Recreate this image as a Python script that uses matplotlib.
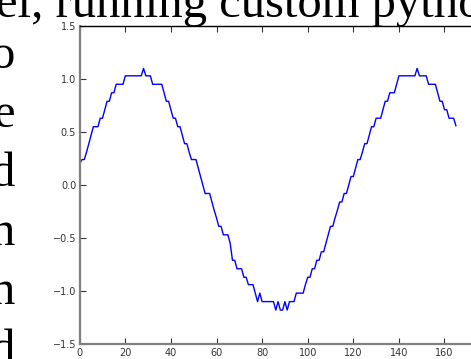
import matplotlib
matplotlib.use("Agg")
import matplotlib.pyplot as plt

# values, one per x step (x = 0..165)
y_vals = [
    0.20, 0.24, 0.24, 0.31, 0.39, 0.47, 0.55, 0.55, 0.55, 0.63,
    0.63, 0.71, 0.79, 0.79, 0.87, 0.87, 0.95, 0.95, 0.95, 0.95,
    1.03, 1.03, 1.03, 1.03, 1.03, 1.03, 1.03, 1.03, 1.10, 1.03,
    1.03, 1.03, 0.95, 0.95, 0.95, 0.95, 0.95, 0.87, 0.79, 0.79,
    0.71, 0.63, 0.63, 0.55, 0.55, 0.47, 0.39, 0.39, 0.31, 0.24,
    0.24, 0.24, 0.16, 0.08, 0.00, -0.08, -0.08, -0.08, -0.16, -0.24,
    -0.31, -0.39, -0.39, -0.47, -0.47, -0.47, -0.55, -0.71, -0.71, -0.79,
    -0.79, -0.79, -0.87, -0.87, -0.94, -0.94, -0.94, -1.02, -1.10, -1.02,
    -1.10, -1.10, -1.10, -1.10, -1.10, -1.10, -1.18, -1.10, -1.18, -1.18,
    -1.10, -1.18, -1.10, -1.10, -1.10, -1.02, -1.02, -1.02, -1.02, -0.94,
    -0.87, -0.87, -0.79, -0.79, -0.71, -0.71, -0.63, -0.63, -0.55, -0.47,
    -0.39, -0.39, -0.31, -0.24, -0.16, -0.16, -0.08, -0.08, 0.00, 0.08,
    0.08, 0.16, 0.24, 0.24, 0.31, 0.39, 0.39, 0.47, 0.55, 0.55,
    0.63, 0.63, 0.63, 0.71, 0.79, 0.79, 0.87, 0.87, 0.87, 0.95,
    1.03, 1.03, 1.03, 1.03, 1.03, 1.03, 1.03, 1.03, 1.10, 1.03,
    1.03, 1.03, 1.03, 0.95, 0.95, 0.95, 0.95, 0.87, 0.79, 0.79,
    0.71, 0.71, 0.63, 0.63, 0.63, 0.56,
]
x_vals = list(range(len(y_vals)))

x_ticks = [0, 20, 40, 60, 80, 100, 120, 140, 160]
y_ticks = [-1.5, -1.0, -0.5, 0.0, 0.5, 1.0, 1.5]

# page text the plot sits on (screenshot background)
top_line = "el, running custom pytho"
side_letters = ["o", "e", "d", "n", "n", "d"]

W, H = 471, 359
fig = plt.figure(figsize=(W / 100, H / 100), dpi=100)

serif = ["Liberation Serif", "DejaVu Serif"]
fig.text(-4 / W, 1 - 17 / H, top_line, family=serif, fontsize=35,
         va="baseline", ha="left")
for i, ch in enumerate(side_letters):
    fig.text(15 / W, 1 - (68 + 59 * i) / H, ch, family=serif, fontsize=35,
             va="baseline", ha="right")

ax = fig.add_axes([79.7 / W, 15 / H, 180 * 2.28 / W, 318 / H])
ax.plot(x_vals, y_vals, color="blue", lw=1.0)
ax.set_xlim(0, 180)
ax.set_ylim(-1.5, 1.5)
ax.set_xticks(x_ticks)
ax.set_yticks(y_ticks)
ax.set_yticklabels(["\u2212%.1f" % -v if v < 0 else "%.1f" % v for v in y_ticks])

ax.tick_params(direction="in", top=True, right=True, length=4, width=0.8,
               colors="#333333", labelsize=7, pad=2.5)
ax.tick_params(axis="x", pad=3)
ax.spines["left"].set_color("#808080")
ax.spines["left"].set_linewidth(1.6)
ax.spines["bottom"].set_color("#808080")
ax.spines["bottom"].set_linewidth(1.6)
ax.spines["top"].set_color("black")
ax.spines["top"].set_linewidth(1.0)

fig.savefig("out.png", dpi=100)
